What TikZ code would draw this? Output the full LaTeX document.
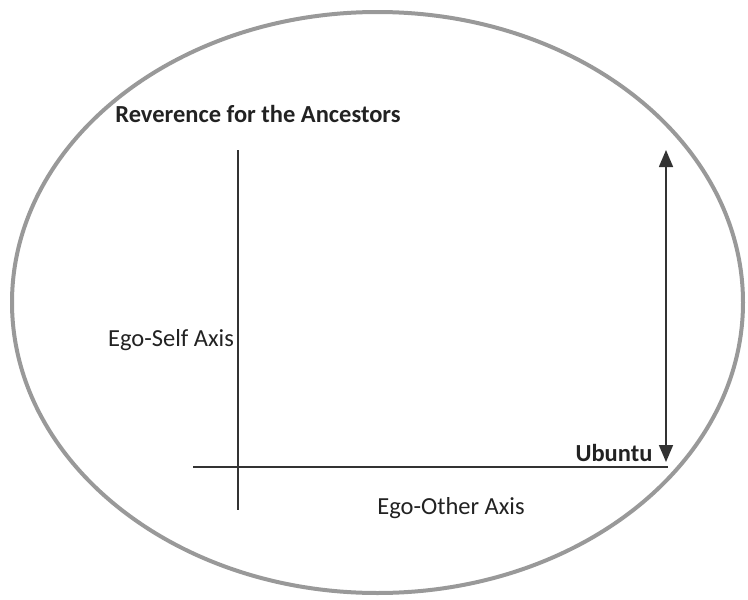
\documentclass[tikz,border=0pt]{standalone}
\usepackage{fontspec}
\setmainfont{Carlito}
\usetikzlibrary{arrows.meta}
\definecolor{ringgray}{HTML}{999999}
\definecolor{linegray}{HTML}{333333}
\definecolor{textgray}{HTML}{222222}
\tikzset{
  ring/.style={draw=ringgray, line width=4pt},
  axisline/.style={draw=linegray, line width=1.6pt},
  lbl/.style={text=textgray, inner sep=0pt, font=\fontsize{24.5}{28}\selectfont},
  blbl/.style={lbl, font=\fontsize{24.5}{28}\selectfont\bfseries},
  dblarrow/.style={axisline, {Triangle[width=14pt,length=17pt]}-{Triangle[width=14pt,length=17pt]}}
}
\begin{document}
\begin{tikzpicture}[x=1pt,y=-1pt]
\useasboundingbox (0,0) rectangle (748,600);
\draw[ring] (377.5,302.5) ellipse [x radius=365.5, y radius=290.5];
\node[blbl] (rev) at (258,114) {Reverence for the Ancestors};
\node[lbl] (self) at (171,340) {Ego-Self Axis};
\node[blbl] (ubu) at (614,453) {Ubuntu};
\node[lbl] (other) at (451,508) {Ego-Other Axis};
\coordinate (vtop) at (238,150);
\coordinate (vbot) at (238,510);
\coordinate (hleft) at (193,467);
\coordinate (hright) at (668,467);
\coordinate (atop) at (666,150);
\coordinate (abot) at (666,462);
\draw[axisline] (vtop) -- (vbot);
\draw[axisline] (hleft) -- (hright);
\draw[dblarrow] (atop) -- (abot);
\end{tikzpicture}
\end{document}
